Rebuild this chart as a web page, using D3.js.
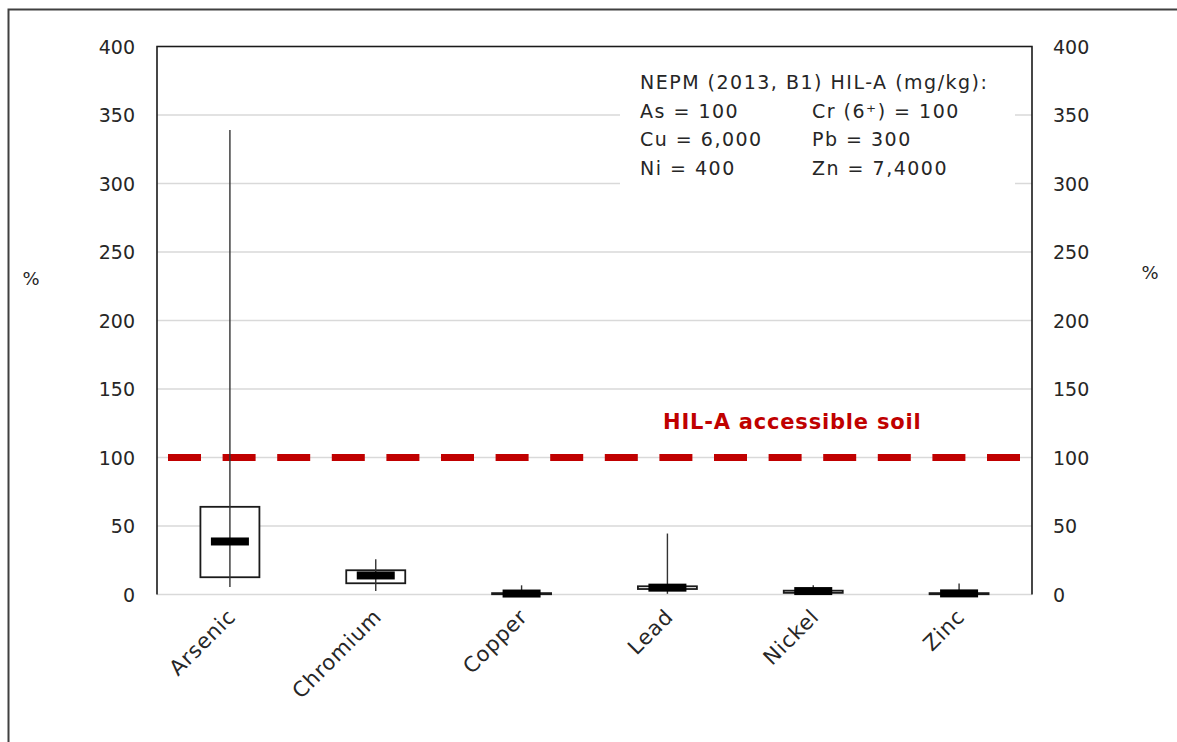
<!DOCTYPE html>
<html><head><meta charset="utf-8">
<script src="https://cdn.jsdelivr.net/npm/d3@7"></script>
<style>body{margin:0;background:#fff;} svg{display:block;} text{font-family:"DejaVu Sans",sans-serif;fill:#262626;}</style>
</head><body>
<svg id="chart" width="1177" height="742"></svg>
<script>
const categories = ["Arsenic","Chromium","Copper","Lead","Nickel","Zinc"];
const minValues = [5.5, 2.6, 0.3, 0.5, 0.3, 0.3];
const q1Values = [12.6, 8.2, 0.2, 4.0, 1.2, 0.2];
const medianValues = [38.7, 13.9, 0.7, 5.0, 2.5, 0.8];
const q3Values = [64, 17.7, 1.0, 6.0, 2.8, 1.0];
const maxValues = [339, 25.7, 6.7, 44.5, 6.8, 8.0];
const yTicks = [0,50,100,150,200,250,300,350,400];
const guideline = 100;
const guideLabel = "HIL-A accessible soil";
const noteLines = [
  ["NEPM (2013, B1) HIL-A (mg/kg):", null],
  ["As = 100", "Cr (6\u207A) = 100"],
  ["Cu = 6,000", "Pb = 300"],
  ["Ni = 400", "Zn = 7,4000"]
];

const svg = d3.select("#chart");
const L = 157, R = 1032, T = 46.5, B = 594.5;
const x = d3.scaleBand().domain(categories).range([L, R]);
const y = d3.scaleLinear().domain([0, 400]).range([B, T]);

// outer border
svg.append("rect").attr("x",8.5).attr("y",9.5).attr("width",1300).attr("height",900)
  .attr("fill","none").attr("stroke","#404040").attr("stroke-width",2);

// gridlines
svg.append("g").selectAll("line").data(yTicks).join("line")
  .attr("x1",L).attr("x2",R).attr("y1",d=>y(d)).attr("y2",d=>y(d))
  .attr("stroke","#d9d9d9").attr("stroke-width",1.5);

// note background
svg.append("rect").attr("x",620).attr("y",58).attr("width",395).attr("height",132).attr("fill","#fff");

// frame
svg.append("path").attr("d",`M${L},${B}V${T}H${R}V${B}`).attr("fill","none")
  .attr("stroke","#1a1a1a").attr("stroke-width",1.6);

// axes labels
const yl = d3.axisLeft(y).tickValues(yTicks).tickSize(0).tickPadding(22);
const yr = d3.axisRight(y).tickValues(yTicks).tickSize(0).tickPadding(21);
const gl = svg.append("g").attr("transform",`translate(${L},0)`).call(yl);
const gr = svg.append("g").attr("transform",`translate(${R},0)`).call(yr);
[gl,gr].forEach(g=>{g.select(".domain").remove();
  g.selectAll("text").attr("font-size",19).attr("font-family","DejaVu Sans").attr("fill","#262626").attr("dy","0.35em");});

// category labels
svg.append("g").selectAll("text").data(categories).join("text")
  .attr("transform",d=>`translate(${x(d)+x.bandwidth()/2+7},618) rotate(-45)`)
  .attr("text-anchor","end").attr("font-size",21).attr("letter-spacing",0.8).text(d=>d);

// % labels
svg.append("text").attr("x",31).attr("y",279).attr("text-anchor","middle").attr("dy","0.35em").attr("font-size",18).text("%");
svg.append("text").attr("x",1150).attr("y",273).attr("text-anchor","middle").attr("dy","0.35em").attr("font-size",18).text("%");

// guideline
svg.append("line").attr("x1",168).attr("x2",1021).attr("y1",y(guideline)).attr("y2",y(guideline))
  .attr("stroke","#c00000").attr("stroke-width",7).attr("stroke-dasharray","33,21.6");
svg.append("text").attr("x",663).attr("y",429).attr("font-size",21).attr("font-weight","bold")
  .attr("letter-spacing",0.8).style("fill","#c00000").text(guideLabel);

// boxes
const bw = 59, mw = 38, mh = 8;
const data = categories.map((c,i)=>({c,min:minValues[i],q1:q1Values[i],med:medianValues[i],q3:q3Values[i],max:maxValues[i]}));
const gb = svg.append("g");
data.forEach(d=>{
  const cx = x(d.c)+x.bandwidth()/2;
  gb.append("rect").attr("x",cx-bw/2).attr("width",bw).attr("y",y(d.q3)).attr("height",Math.max(0.5,y(d.q1)-y(d.q3)))
    .attr("fill","#fff").attr("stroke","#1a1a1a").attr("stroke-width",1.8);
  gb.append("line").attr("x1",cx).attr("x2",cx).attr("y1",y(d.max)).attr("y2",y(d.min))
    .attr("stroke","#333").attr("stroke-width",1.4);
  gb.append("rect").attr("x",cx-mw/2).attr("width",mw).attr("y",y(d.med)-mh/2).attr("height",mh).attr("fill","#000");
});

// note text
const nt = svg.append("g");
noteLines.forEach((row,i)=>{
  const yy = 89 + i*28.5;
  nt.append("text").attr("x",640).attr("y",yy).attr("font-size",19).attr("letter-spacing",1.5).text(row[0]);
  if(row[1]) nt.append("text").attr("x",812).attr("y",yy).attr("font-size",19).attr("letter-spacing",1.5).text(row[1]);
});
</script>
</body></html>
